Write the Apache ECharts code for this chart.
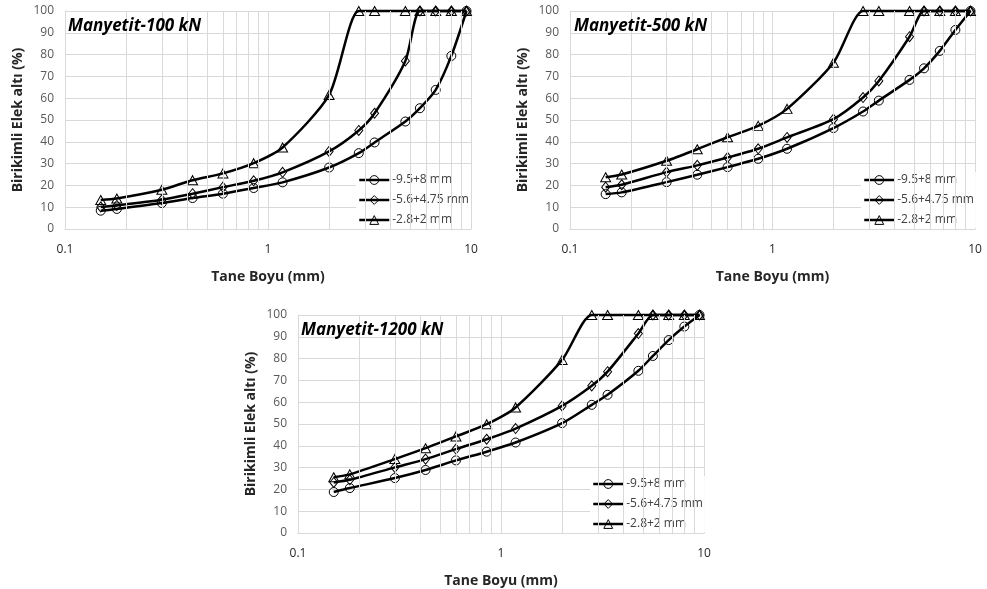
<!DOCTYPE html>
<html>
<head>
<meta charset="utf-8">
<script src="https://cdn.jsdelivr.net/npm/echarts@6/dist/echarts.min.js"></script>
<style>
html, body { margin: 0; padding: 0; background: #fff; }
#main { width: 987px; height: 589px; }
</style>
</head>
<body>
<div id="main"></div>
<script>
// elek boyutlari (mm)
var sizes = [0.15, 0.18, 0.3, 0.425, 0.6, 0.85, 1.18, 2, 2.8, 3.35, 4.75, 5.6, 6.7, 8, 9.5];
var seriesNames = ['-9.5+8 mm', '-5.6+4.75 mm', '-2.8+2 mm'];
var titles = ['Manyetit-100 kN', 'Manyetit-500 kN', 'Manyetit-1200 kN'];

// Manyetit-100 kN
var kN100_a = [8.4, 9.2, 11.9, 14.2, 16.2, 18.8, 21.4, 28.2, 34.8, 39.7, 49.3, 55.4, 63.8, 79.4, 100];
var kN100_b = [10.1, 10.8, 13.4, 16.2, 19.2, 22.1, 26.0, 35.6, 45.2, 53.1, 77.1, 100, 100, 100, 100];
var kN100_c = [13.3, 14.0, 18.0, 22.4, 25.5, 30.2, 37.4, 61.5, 100, 100, 100, 100, 100, 100, 100];
// Manyetit-500 kN
var kN500_a = [16.0, 16.8, 21.5, 24.9, 28.4, 32.2, 36.8, 46.3, 53.9, 58.9, 68.4, 73.7, 81.7, 91.3, 100];
var kN500_b = [19.2, 20.3, 26.1, 29.2, 32.8, 36.8, 42.0, 50.4, 60.3, 67.9, 88.2, 100, 100, 100, 100];
var kN500_c = [23.7, 25.0, 31.3, 36.6, 42.1, 47.3, 55.1, 76.3, 100, 100, 100, 100, 100, 100, 100];
// Manyetit-1200 kN
var kN1200_a = [18.8, 20.6, 25.2, 28.9, 33.3, 37.3, 41.5, 50.4, 58.8, 63.4, 74.4, 81.2, 88.5, 94.7, 100];
var kN1200_b = [23.2, 24.4, 30.1, 33.9, 38.5, 43.0, 47.9, 58.3, 67.5, 74.0, 91.5, 100, 100, 100, 100];
var kN1200_c = [25.6, 26.9, 33.9, 38.9, 44.3, 49.9, 57.6, 79.4, 100, 100, 100, 100, 100, 100, 100];

var minorTicks = [0.2, 0.3, 0.4, 0.5, 0.6, 0.7, 0.8, 0.9, 2, 3, 4, 5, 6, 7, 8, 9];

var FONT = 'Open Sans';
var GRID_C = '#d9d9d9';
var symbols = ['circle', 'diamond', 'triangle'];
var symSizes = [[9, 9], [8, 10], [10, 9]];

var grids = [
    {left: 65, right: 516, top: 11, bottom: 360},
    {left: 570, right: 12, top: 11, bottom: 360},
    {left: 298, right: 283, top: 315, bottom: 56}
];
var legendPos = [
    {left: 356, top: 172},
    {left: 861, top: 172},
    {left: 590, top: 476}
];
var titlePos = [
    {left: 68, top: 18},
    {left: 574, top: 18},
    {left: 301, top: 322}
];
var allData = [
    [kN100_a, kN100_b, kN100_c],
    [kN500_a, kN500_b, kN500_c],
    [kN1200_a, kN1200_b, kN1200_c]
];

function pairs(ys) {
    var out = [];
    for (var i = 0; i < sizes.length; i++) {
        out.push([sizes[i], ys[i]]);
    }
    return out;
}

var option = {
    animation: false,
    backgroundColor: '#fff',
    title: [],
    legend: [],
    grid: [],
    xAxis: [],
    yAxis: [],
    series: []
};

for (var g = 0; g < 3; g++) {
    option.grid.push(grids[g]);
    option.title.push({
        text: titles[g],
        left: titlePos[g].left,
        top: titlePos[g].top,
        padding: 0,
        textStyle: {fontFamily: FONT, fontSize: 17, fontWeight: 'bold', fontStyle: 'italic', color: '#000'}
    });
    option.legend.push({
        data: seriesNames,
        orient: 'vertical',
        left: legendPos[g].left,
        top: legendPos[g].top,
        itemWidth: 30,
        itemHeight: 11,
        itemGap: 8,
        padding: [2, 2, 2, 2],
        backgroundColor: '#fff',
        selectedMode: false,
        lineStyle: {color: '#000', width: 2.5, type: 'solid', opacity: 1},
        itemStyle: {color: 'rgba(0,0,0,0)', borderColor: '#000', borderWidth: 1},
        textStyle: {fontFamily: FONT, fontSize: 12, color: '#404040', padding: [0, 0, 0, -2]}
    });
    option.xAxis.push({
        type: 'log',
        logBase: 10,
        min: 0.1,
        max: 10,
        gridIndex: g,
        name: 'Tane Boyu (mm)',
        nameLocation: 'middle',
        nameGap: 41,
        nameTextStyle: {fontFamily: FONT, fontSize: 14, fontWeight: 'bold', color: '#262626'},
        axisLine: {show: true, lineStyle: {color: GRID_C}},
        axisTick: {show: false},
        axisLabel: {fontFamily: FONT, fontSize: 12, color: '#262626', margin: 15,
            formatter: function (v) { return String(v); }},
        splitLine: {show: true, lineStyle: {color: GRID_C, width: 1}}
    });
    option.yAxis.push({
        type: 'value',
        min: 0,
        max: 100,
        interval: 10,
        gridIndex: g,
        name: 'Birikimli Elek altı (%)',
        nameLocation: 'middle',
        nameGap: 40,
        nameTextStyle: {fontFamily: FONT, fontSize: 14, fontWeight: 'bold', color: '#262626'},
        axisLine: {show: true, lineStyle: {color: GRID_C}},
        axisTick: {show: false},
        axisLabel: {fontFamily: FONT, fontSize: 12, color: '#595959', margin: 11},
        splitLine: {show: true, lineStyle: {color: GRID_C, width: 1}}
    });
    // ara cizgiler (log)
    option.series.push({
        type: 'line',
        xAxisIndex: g,
        yAxisIndex: g,
        data: [],
        z: 1,
        silent: true,
        markLine: {
            silent: true,
            symbol: ['none', 'none'],
            label: {show: false},
            lineStyle: {color: GRID_C, width: 1, type: 'solid'},
            data: minorTicks.map(function (v) { return {xAxis: v}; })
        }
    });
    for (var s = 0; s < 3; s++) {
        option.series.push({
            name: seriesNames[s],
            type: 'line',
            xAxisIndex: g,
            yAxisIndex: g,
            smooth: 0.25,
            clip: false,
            symbol: symbols[s],
            symbolSize: symSizes[s],
            showAllSymbol: true,
            z: 3,
            lineStyle: {color: '#000', width: 2.5},
            itemStyle: {color: 'rgba(0,0,0,0)', borderColor: '#000', borderWidth: 1},
            data: pairs(allData[g][s])
        });
    }
}

var myChart = echarts.init(document.getElementById('main'));
myChart.setOption(option);
</script>
</body>
</html>
